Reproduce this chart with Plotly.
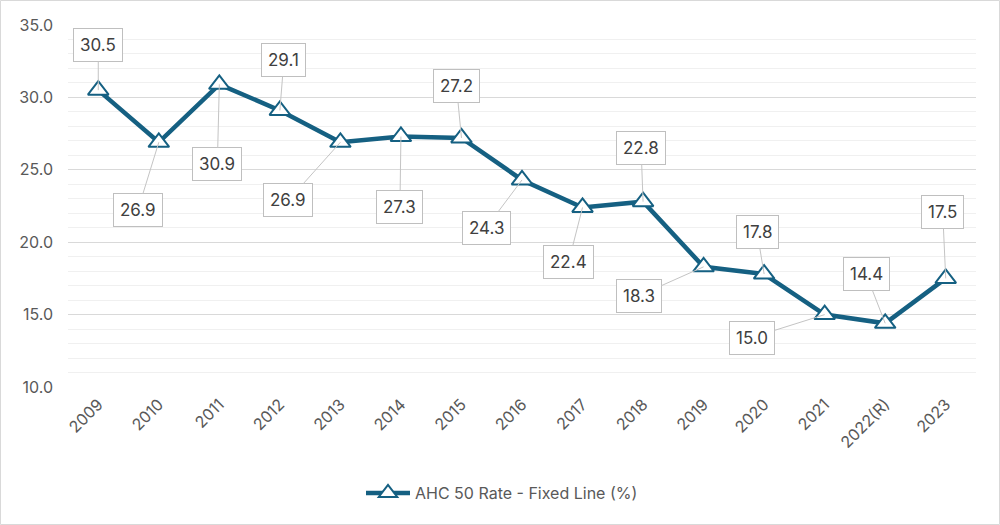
import plotly.graph_objects as go

years = ["2009", "2010", "2011", "2012", "2013", "2014", "2015", "2016",
         "2017", "2018", "2019", "2020", "2021", "2022(R)", "2023"]
values = [30.5, 26.9, 30.9, 29.1, 26.9, 27.3, 27.2, 24.3, 22.4, 22.8, 18.3, 17.8, 15.0, 14.4, 17.5]
label_ax = [0, -21, -2, 4, -52, -1, -5, -36, -14, -2, -65, -7, -73, -19, -3]
label_ay = [-45, 68, 80, -50, 58, 70, -52, 48, 55, -54, 29, -42, 23, -49, -66]
series_name = "AHC 50 Rate - Fixed Line (%)"

W, H = 1000, 525
ML, MR, MT, MB = 68, 24, 25, 138
PW, PH = W - ML - MR, H - MT - MB

color = "#156082"
font_family = "Inter, Liberation Sans, Arial, sans-serif"

xpos = list(range(len(years)))

fig = go.Figure()
fig.add_trace(go.Scatter(
    x=xpos, y=values, mode="lines+markers", name=series_name,
    line=dict(color=color, width=4.5),
    marker=dict(symbol="triangle-up", size=18, color="white",
                line=dict(color=color, width=2)),
    cliponaxis=False,
))

annotations = []
for xp, v, ax, ay in zip(xpos, values, label_ax, label_ay):
    annotations.append(dict(
        x=xp, y=v, xref="x", yref="y", text=f"{v:.1f}",
        showarrow=True, arrowhead=0, arrowwidth=1, arrowcolor="#c4c4c4",
        ax=ax, ay=ay, standoff=0, startstandoff=0,
        bgcolor="white", bordercolor="#bfbfbf", borderwidth=1, borderpad=6,
        font=dict(size=17, color="#404040", family=font_family),
    ))

fig.update_layout(
    width=W, height=H,
    margin=dict(l=ML, r=MR, t=MT, b=MB),
    paper_bgcolor="white", plot_bgcolor="white",
    font=dict(family=font_family, size=16, color="#595959"),
    showlegend=True,
    legend=dict(orientation="h", x=(502 - ML) / PW, xanchor="center",
                y=-(493 - (MT + PH)) / PH, yanchor="middle",
                font=dict(size=16, color="#595959"), itemwidth=44),
    annotations=annotations,
    xaxis=dict(range=[-0.5, len(years) - 0.5], tickvals=xpos, ticktext=years,
               showgrid=False, showline=False, zeroline=False,
               tickangle=-45, tickfont=dict(size=16, color="#595959"),
               ticks="", ticklabelstandoff=4),
    yaxis=dict(range=[10, 35], dtick=5, tickformat=".1f", showgrid=True,
               gridcolor="#d9d9d9", gridwidth=1, zeroline=False, showline=False,
               tickfont=dict(size=16, color="#595959"), ticks="",
               ticklabelstandoff=14,
               minor=dict(dtick=1, showgrid=True, gridcolor="#f0f0f0", gridwidth=1)),
    shapes=[dict(type="rect", xref="paper", yref="paper",
                 x0=-(ML - 0.5) / PW, x1=(W - ML - 0.5) / PW,
                 y0=-(MB - 0.5) / PH, y1=(H - MB - 0.5) / PH,
                 line=dict(color="#d9d9d9", width=1), layer="below")],
)

fig.write_html("out.html", config={"displayModeBar": False},
               post_script="document.body.style.margin='0';document.body.style.padding='0';")
